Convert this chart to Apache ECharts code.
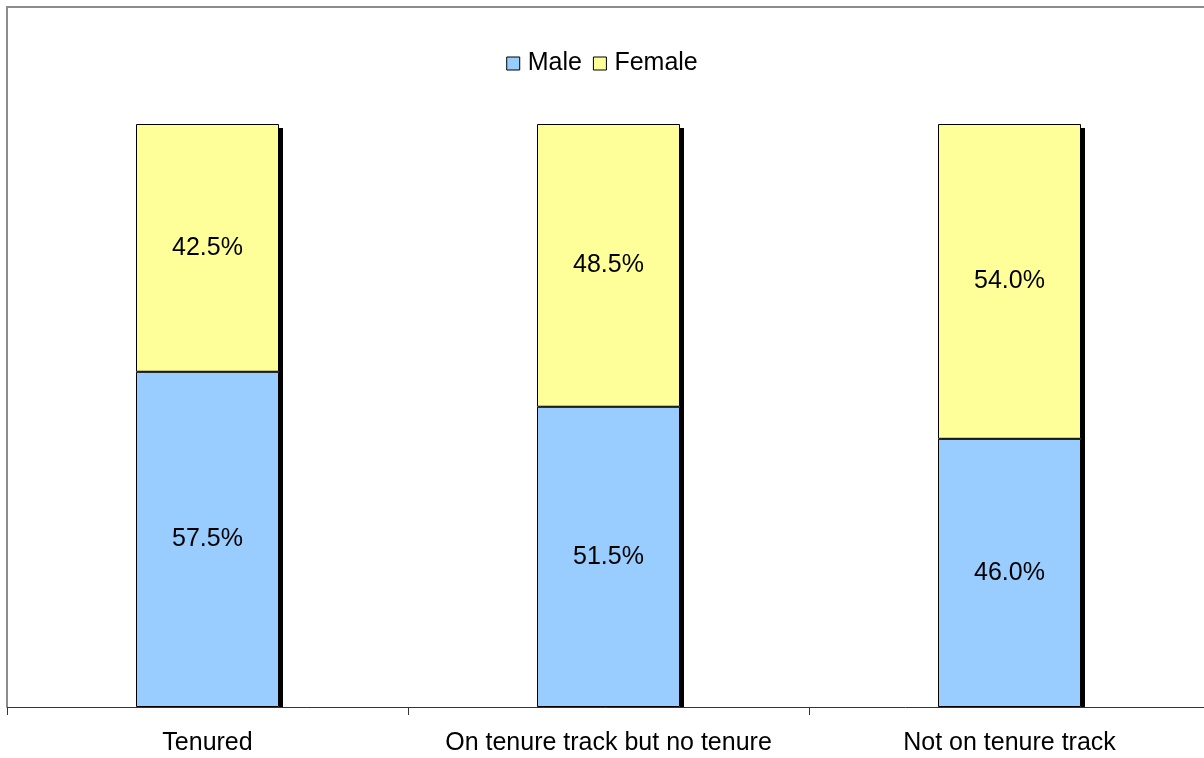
<!DOCTYPE html>
<html>
<head>
<meta charset="utf-8">
<script src="https://cdn.jsdelivr.net/npm/echarts@6/dist/echarts.min.js"></script>
<style>
  html, body { margin: 0; padding: 0; background: #fff; }
  #chart { width: 1204px; height: 758px; }
</style>
</head>
<body>
<div id="chart"></div>
<script>
var categories = ['Tenured', 'On tenure track but no tenure', 'Not on tenure track'];
var maleData = [57.5, 51.5, 46.0];
var femaleData = [42.5, 48.5, 54.0];

var maleColor = '#99ccff';
var femaleColor = '#ffff99';
var font = 'Liberation Sans, Arial, sans-serif';
var fontSize = 25;

var chart = echarts.init(document.getElementById('chart'));

function pctLabel(p) {
  return p.value.toFixed(1) + '%';
}

// filled bars carry the drop shadow, a second transparent stack draws the outlines
function fillSeries(name, data, color, z, offY) {
  return {
    name: name,
    type: 'bar',
    stack: 'fill',
    barWidth: 143,
    z: z,
    data: data,
    itemStyle: {
      color: color,
      borderWidth: 0,
      shadowColor: '#000',
      shadowOffsetX: 4,
      shadowOffsetY: offY,
      shadowBlur: 0
    },
    label: {show: false}
  };
}

function outlineSeries(name, data) {
  return {
    name: name + ' outline',
    type: 'bar',
    stack: 'outline',
    barWidth: 143,
    barGap: '-100%',
    z: 5,
    data: data,
    itemStyle: {color: 'rgba(0,0,0,0)', borderColor: '#000', borderWidth: 1},
    label: {
      show: true,
      position: 'inside',
      fontSize: fontSize,
      color: '#000',
      fontFamily: font,
      formatter: pctLabel
    }
  };
}

chart.setOption({
  animation: false,
  textStyle: {fontFamily: font},
  // chart-area border: top and left edges only are visible
  graphic: [{
    type: 'polyline',
    shape: {points: [[7, 707], [7, 7], [1210, 7]]},
    style: {fill: 'none', stroke: '#8c8c8c', lineWidth: 2},
    silent: true
  }],
  legend: {
    top: 46,
    left: 'center',
    itemWidth: 13,
    itemHeight: 13,
    itemGap: 11,
    icon: 'rect',
    itemStyle: {borderColor: '#000', borderWidth: 1},
    textStyle: {fontSize: fontSize, color: '#000', fontFamily: font, padding: [0, 0, 0, 3]},
    data: ['Male', 'Female']
  },
  grid: {
    left: 7,
    top: 124,
    width: 1203,
    height: 583,
    outerBoundsMode: 'none'
  },
  xAxis: {
    type: 'category',
    data: categories,
    axisLine: {show: true, lineStyle: {color: '#333', width: 1}},
    axisTick: {show: true, length: 8, lineStyle: {color: '#333'}},
    axisLabel: {fontSize: fontSize, color: '#000', margin: 24, fontFamily: font, interval: 0}
  },
  yAxis: {
    type: 'value',
    min: 0,
    max: 100,
    show: false
  },
  series: [
    fillSeries('Male', maleData, maleColor, 3, 0),
    fillSeries('Female', femaleData, femaleColor, 2, 4),
    outlineSeries('Male', maleData),
    outlineSeries('Female', femaleData)
  ]
});
</script>
</body>
</html>
